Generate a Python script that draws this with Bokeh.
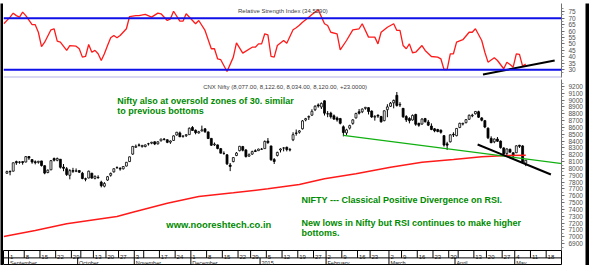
import numpy as np
import pandas as pd
from bokeh.plotting import figure
from bokeh.models import Range1d, FixedTicker, Span, Label, ColumnDataSource
from bokeh.layouts import column, row
from bokeh.embed import file_html
from bokeh.resources import INLINE
from bokeh.core.properties import value

# ---------------- data ----------------
holidays = ["2014-08-29", "2014-10-02", "2014-10-03", "2014-10-06", "2014-10-15",
            "2014-10-24", "2014-11-04", "2014-11-06", "2014-12-25", "2015-01-26",
            "2015-02-17", "2015-03-06", "2015-04-02", "2015-04-03", "2015-04-14",
            "2015-05-01"]
special_sessions = ["2015-02-28"]
first_day = "2014-09-01"
candle_start = "2014-08-28"

opens = [7930, 7958, 7960, 8100, 8090, 8100, 8094, 8175, 8130, 8098,
         8090, 8110, 8040, 7940, 7980, 8145, 8120, 8135, 8020, 7995,
         7900, 7970, 7960, 7970, 7930, 7850, 7860, 7930, 7855, 7870,
         7800, 7740, 7830, 7900, 7950, 8010, 8000, 7995, 8035, 8100,
         8210, 8310, 8345, 8320, 8320, 8360, 8370, 8390, 8360, 8405,
         8430, 8420, 8385, 8410, 8490, 8520, 8470, 8480, 8495, 8600,
         8560, 8520, 8550, 8580, 8535, 8440, 8345, 8345, 8290, 8220,
         8200, 8050, 8100, 8190, 8260, 8320, 8270, 8180, 8210, 8260,
         8260, 8280, 8290, 8400, 8330, 8130, 8190, 8270, 8300, 8310,
         8270, 8420, 8520, 8530, 8580, 8710, 8750, 8780, 8860, 8930,
         8900, 8990, 8800, 8810, 8770, 8740, 8730, 8610, 8520, 8590,
         8660, 8740, 8830, 8830, 8880, 8890, 8840, 8750, 8780, 8760,
         8700, 8860, 8910, 8960, 9070, 8930, 8880, 8760, 8730, 8710,
         8790, 8660, 8650, 8730, 8680, 8620, 8580, 8570, 8560, 8480,
         8360, 8390, 8500, 8480, 8600, 8650, 8670, 8720, 8770, 8800,
         8830, 8740, 8700, 8590, 8440, 8390, 8430, 8400, 8300, 8220,
         8280, 8230, 8230, 8340, 8330, 8077]
highs = [7968, 7968, 8087, 8114, 8105, 8102, 8180, 8180, 8131, 8118,
         8111, 8112, 8046, 7985, 8123, 8160, 8159, 8136, 8065, 8020,
         7990, 8009, 8000, 7972, 7950, 7865, 7968, 7936, 7898, 7900,
         7820, 7800, 7890, 7940, 8000, 8030, 8020, 8035, 8095, 8174,
         8330, 8350, 8365, 8345, 8350, 8375, 8390, 8395, 8398, 8435,
         8445, 8425, 8410, 8485, 8535, 8540, 8485, 8500, 8600, 8620,
         8570, 8550, 8627, 8588, 8540, 8445, 8380, 8350, 8300, 8250,
         8210, 8080, 8165, 8240, 8330, 8330, 8285, 8220, 8260, 8280,
         8290, 8300, 8410, 8445, 8330, 8152, 8245, 8295, 8310, 8320,
         8300, 8530, 8570, 8560, 8707, 8740, 8775, 8866, 8925, 8952,
         8966, 8996, 8840, 8830, 8790, 8760, 8740, 8630, 8580, 8640,
         8720, 8815, 8870, 8880, 8900, 8895, 8850, 8780, 8790, 8770,
         8850, 8940, 8972, 9008, 9119, 8970, 8885, 8780, 8750, 8790,
         8800, 8670, 8735, 8740, 8710, 8660, 8590, 8580, 8570, 8490,
         8390, 8500, 8530, 8590, 8670, 8670, 8720, 8790, 8800, 8841,
         8845, 8750, 8710, 8600, 8470, 8440, 8460, 8410, 8310, 8295,
         8290, 8235, 8340, 8345, 8340, 8123]
lows = [7921, 7900, 7956, 8053, 8069, 8055, 8089, 8125, 8069, 8059,
        8070, 8029, 7915, 7930, 7975, 8102, 8105, 7998, 7960, 7890,
        7841, 7935, 7946, 7934, 7842, 7812, 7855, 7850, 7840, 7850,
        7723, 7723, 7820, 7880, 7940, 7995, 7967, 7985, 8030, 8095,
        8200, 8300, 8320, 8305, 8310, 8335, 8355, 8342, 8350, 8395,
        8410, 8370, 8360, 8405, 8480, 8460, 8450, 8460, 8490, 8550,
        8500, 8510, 8540, 8520, 8430, 8330, 8330, 8280, 8220, 8200,
        8050, 7961, 8090, 8180, 8250, 8250, 8160, 8170, 8200, 8240,
        8255, 8272, 8288, 8360, 8112, 8065, 8175, 8234, 8250, 8250,
        8250, 8400, 8480, 8510, 8570, 8690, 8710, 8770, 8840, 8890,
        8870, 8775, 8750, 8730, 8710, 8685, 8645, 8470, 8490, 8570,
        8640, 8730, 8790, 8810, 8860, 8790, 8740, 8700, 8740, 8670,
        8690, 8750, 8900, 8880, 8905, 8900, 8740, 8680, 8660, 8700,
        8625, 8610, 8640, 8670, 8620, 8560, 8530, 8530, 8510, 8320,
        8270, 8380, 8460, 8470, 8590, 8630, 8660, 8710, 8750, 8790,
        8740, 8690, 8590, 8430, 8370, 8370, 8390, 8290, 8200, 8195,
        8225, 8144, 8225, 8300, 8083, 8034]
closes = [7954, 7951, 8083, 8083, 8095, 8086, 8173, 8152, 8094, 8085,
          8105, 8042, 7932, 7975, 8114, 8121, 8146, 8017, 8002, 7911,
          7968, 7958, 7964, 7945, 7852, 7842, 7960, 7859, 7884, 7864,
          7748, 7779, 7879, 7927, 7996, 8014, 7991, 8028, 8090, 8170,
          8322, 8324, 8338, 8337, 8344, 8362, 8383, 8358, 8390, 8430,
          8425, 8382, 8402, 8477, 8530, 8463, 8475, 8494, 8588, 8556,
          8524, 8537, 8564, 8538, 8438, 8340, 8356, 8292, 8224, 8219,
          8067, 8029, 8159, 8225, 8324, 8267, 8174, 8200, 8246, 8248,
          8283, 8284, 8395, 8378, 8127, 8102, 8235, 8285, 8299, 8277,
          8277, 8494, 8513, 8550, 8696, 8729, 8761, 8836, 8910, 8914,
          8952, 8809, 8797, 8757, 8723, 8711, 8661, 8526, 8565, 8627,
          8711, 8805, 8809, 8869, 8895, 8833, 8754, 8762, 8767, 8683,
          8844, 8901, 8956, 8996, 8922, 8937, 8756, 8712, 8699, 8776,
          8647, 8633, 8723, 8685, 8634, 8571, 8550, 8542, 8530, 8342,
          8341, 8492, 8491, 8586, 8660, 8660, 8714, 8778, 8780, 8834,
          8750, 8706, 8606, 8448, 8377, 8430, 8398, 8305, 8213, 8285,
          8239, 8182, 8331, 8324, 8097, 8120]

# RSI (14): trading-day position, value
rsi_day = [-2, 0, 1, 2, 3, 4, 5, 7, 8, 9, 10, 11, 13, 14, 15, 16, 18, 19, 21, 22,
           23, 24, 25, 26, 27, 28, 29, 30, 31, 32, 33, 34, 35, 37, 38, 40, 41, 43, 45, 47,
           48, 50, 51, 52, 54, 55, 56, 59, 60, 62, 64, 65, 66, 67, 69, 71, 72, 74, 77, 78,
           79, 80, 81, 82, 83, 84, 85, 87, 88, 90, 91, 92, 93, 95, 96, 97, 98, 100, 101, 102,
           104, 105, 107, 109, 111, 112, 114, 116, 117, 118, 120, 122, 123, 124, 125, 126, 127, 128, 129, 131,
           132, 134, 136, 137, 138, 139, 140, 141, 142, 144, 146, 147, 148, 150, 151, 152, 154, 155, 157, 158,
           159, 160, 161, 162, 163, 164]
rsi_val = [65.7, 70.8, 73.9, 72.0, 70.8, 74.7, 72.0, 65.1, 65.0, 59.1, 48.0, 51.4, 61.0, 61.8, 52.2, 51.4, 45.0, 48.8, 48.3, 46.3,
           39.8, 40.3, 49.6, 43.6, 45.0, 42.4, 37.2, 42.4, 48.8, 54.8, 56.6, 54.8, 56.6, 61.8, 71.3, 72.0, 72.0, 72.9, 70.8, 73.9,
           73.4, 68.2, 69.5, 75.4, 67.7, 67.7, 73.4, 65.7, 68.2, 60.5, 46.3, 46.3, 38.5, 37.8, 28.7, 39.8, 50.9, 42.9, 47.5, 47.5,
           50.1, 50.1, 57.9, 57.1, 40.3, 39.8, 48.8, 52.7, 50.6, 61.0, 62.6, 64.5, 66.9, 70.8, 72.9, 74.7, 76.5, 65.7, 64.3, 59.1,
           57.9, 45.5, 52.7, 61.0, 61.8, 65.7, 55.3, 55.3, 50.1, 59.1, 63.0, 65.7, 60.5, 60.5, 48.8, 46.3, 50.1, 43.2, 43.6, 48.8,
           45.0, 40.3, 39.8, 38.5, 30.2, 30.2, 42.4, 42.4, 51.4, 53.3, 59.1, 59.1, 61.8, 52.7, 43.6, 35.9, 39.3, 37.2, 30.8, 35.9,
           34.1, 32.0, 42.4, 41.9, 32.8, 34.5]

# long moving average (red curve in the price panel)
ma_day = [-2, 8, 18, 29, 34, 39, 50, 60, 71, 82, 92, 100, 110, 121, 131, 141, 150, 158, 164]
ma_val = [7004, 7092, 7190, 7263, 7297, 7360, 7492, 7589, 7643, 7702, 7765, 7849, 7922, 8019,
          8092, 8130, 8170, 8188, 8192]

# hand-drawn trend lines
green_trend_day = [106, 176]
green_trend_val = [8483, 8069]
black_trend_day = [148.7, 172]
black_trend_val = [8351, 7912]
rsi_trend_day = [150.4, 173.2]
rsi_trend_val = [26.4, 37.2]

rsi_ticks = [30, 35, 40, 45, 50, 55, 60, 65, 70, 75]
price_ticks = [6900, 7000, 7100, 7200, 7300, 7400, 7500, 7600, 7700, 7800, 7900, 8000,
               8100, 8200, 8300, 8400, 8500, 8600, 8700, 8800, 8900, 9000, 9100, 9200]
rsi_levels = [70, 30]

# ---------------- calendar (trading-day axis) ----------------
cal = pd.bdate_range("2014-08-25", "2015-05-29")
cal = cal[~cal.isin(pd.to_datetime(holidays))].union(pd.to_datetime(special_sessions))
kpos = np.arange(len(cal)) - cal.get_loc(pd.Timestamp(first_day))
cal_df = pd.DataFrame({"date": cal, "k": kpos})
start = int(cal_df.loc[cal_df.date == pd.Timestamp(candle_start), "k"].iloc[0])
ck = np.arange(start, start + len(closes))

FONT = "Liberation Sans"
X0, X1 = -2.09, 175.37
xr = Range1d(X0, X1)
W = 582
RB = 23


def style_axis(ax, ticks, minor):
    ax.ticker = FixedTicker(ticks=ticks, minor_ticks=minor)
    ax.axis_line_color = "#707070"
    ax.major_tick_line_color = "#707070"
    ax.minor_tick_line_color = "#909090"
    ax.major_tick_out = 3
    ax.major_tick_in = 0
    ax.minor_tick_out = 2
    ax.minor_tick_in = 0
    ax.major_label_standoff = 4
    ax.major_label_text_font = FONT
    ax.major_label_text_font_size = "6.5px"
    ax.major_label_text_color = "#505050"


# ---------------- RSI panel ----------------
rsi = figure(width=W, height=75, x_range=xr, y_range=Range1d(24.0, 81.4),
             output_backend="svg", toolbar_location=None,
             x_axis_location=None, y_axis_location="right",
             min_border_left=0, min_border_right=RB, min_border_top=0, min_border_bottom=1)
rsi.grid.visible = False
rsi.outline_line_color = None
style_axis(rsi.yaxis[0], rsi_ticks, [t + 2.5 for t in rsi_ticks] + [27.5])
for lv in rsi_levels:
    rsi.add_layout(Span(location=lv, dimension="width", line_color="#1010e8", line_width=2))
rsi.add_layout(Span(location=24.0, dimension="width", line_color="#b4b4e4", line_width=2))
rsi.line(rsi_day, rsi_val, line_color="#ff1a1a", line_width=1.3)
rsi.line(rsi_trend_day, rsi_trend_val, line_color="black", line_width=2)
rsi.add_layout(Label(x=72.5, y=75.6, text="Relative Strength Index (34.5290)",
                     text_font=FONT, text_font_size="6px", text_color="#404040",
                     text_baseline="alphabetic"))

# ---------------- price panel ----------------
price = figure(width=W, height=172, x_range=xr, y_range=Range1d(6799, 9302),
               output_backend="svg", toolbar_location=None,
               x_axis_location=None, y_axis_location="right",
               min_border_left=0, min_border_right=RB, min_border_top=1, min_border_bottom=0)
price.grid.visible = False
price.outline_line_color = None
style_axis(price.yaxis[0], price_ticks, [t + 50 for t in price_ticks] + [6850])

o = np.array(opens); c = np.array(closes)
src = ColumnDataSource(dict(k=ck, o=o, h=highs, l=lows, c=c,
                            top=np.maximum(o, c), bot=np.minimum(o, c),
                            fill=np.where(c >= o, "white", "black")))
price.segment(x0="k", y0="l", x1="k", y1="h", source=src, line_color="black", line_width=1)
price.vbar(x="k", width=0.62, top="top", bottom="bot", source=src,
           fill_color="fill", line_color="black", line_width=0.8)
price.line(ma_day, ma_val, line_color="#ff1a1a", line_width=1.5)
price.line(green_trend_day, green_trend_val, line_color="#10b010", line_width=1.3)
price.line(black_trend_day, black_trend_val, line_color="black", line_width=2)

GREEN = "#008a00"
notes = [
    (34.1, 8985, "Nifty also at oversold zones of 30. similar", "9px"),
    (34.1, 8838, "to previous bottoms", "9px"),
    (92.7, 7531, "NIFTY --- Classical Positive Divergence on RSI.", "9px"),
    (92.7, 7204, "New lows in Nifty but RSI continues to make higher", "9px"),
    (92.7, 7052, "bottoms.", "9px"),
    (49.7, 7180, "www.nooreshtech.co.in", "9.4px"),
]
for x, y, t, fs in notes:
    price.add_layout(Label(x=x, y=y, text=t, text_font=FONT, text_font_size=fs,
                           text_font_style="bold", text_color=GREEN, text_baseline="alphabetic"))
price.add_layout(Label(x=61.4, y=9196, text="CNX Nifty (8,077.00, 8,122.60, 8,034.00, 8,120.00, +23.0000)",
                       text_font=FONT, text_font_size="6px", text_color="#404040",
                       text_baseline="alphabetic"))

# ---------------- date axis strip ----------------
dates = figure(width=W, height=15, x_range=xr, y_range=Range1d(0, 15),
               output_backend="svg", toolbar_location=None,
               x_axis_location=None, y_axis_location=None,
               min_border_left=0, min_border_right=RB, min_border_top=0, min_border_bottom=0)
dates.grid.visible = False
dates.outline_line_color = "black"
dates.outline_line_width = 1
dates.add_layout(Span(location=7.6, dimension="width", line_color="black", line_width=1))

cal_df["week"] = cal_df.date.dt.to_period("W-SUN")
weeks = cal_df.groupby("week").agg(first=("k", "min"), n=("k", "size"), d=("date", "min")).reset_index()
weeks["show"] = weeks["n"].shift(1).fillna(5) >= 4
weeks["sep"] = weeks["first"] - 0.5
weeks = weeks[(weeks.sep > X0) & (weeks.sep < X1)]
dates.segment(x0=weeks.sep.values, y0=7.6, x1=weeks.sep.values, y1=15, line_color="black", line_width=1)
wl = weeks[weeks.show & (weeks.sep < X1 - 2.5)]
dates.text(x=wl.sep.values + 0.45, y=9.0, text=[str(d.day) for d in wl.d],
           text_font=value(FONT), text_font_size="6px", text_color="#202020",
           text_baseline="alphabetic", text_align="left")

cal_df["month"] = cal_df.date.dt.to_period("M")
months = cal_df.groupby("month").agg(first=("k", "min"), d=("date", "min")).reset_index()
months["sep"] = months["first"] - 0.5
months = months[(months.sep > X0) & (months.sep < X1)]
dates.segment(x0=months.sep.values, y0=0, x1=months.sep.values, y1=7.6, line_color="black", line_width=1)
mnames = [d.strftime("%B") if d.month != 1 else str(d.year) for d in months.d]
dates.text(x=months.sep.values + 0.45, y=3.0, text=mnames,
           text_font=value(FONT), text_font_size="5.5px", text_color="#202020",
           text_baseline="alphabetic", text_align="left")

for f in (rsi, price, dates):
    f.background_fill_color = "white"
    f.border_fill_color = "white"


# ---------------- black page frame ----------------
def frame_piece(w, h):
    f = figure(width=w, height=h, output_backend="svg", toolbar_location=None,
               x_axis_location=None, y_axis_location=None,
               min_border_left=0, min_border_right=0, min_border_top=0, min_border_bottom=0)
    f.grid.visible = False
    f.outline_line_color = None
    f.background_fill_color = "black"
    f.border_fill_color = "black"
    return f


inner = column(rsi, price, dates, spacing=0)
layout = column(frame_piece(589, 3),
                row(frame_piece(3, 262), inner, frame_piece(4, 262), spacing=0),
                frame_piece(589, 3), spacing=0)

open("out.html", "w").write(file_html(layout, INLINE))
